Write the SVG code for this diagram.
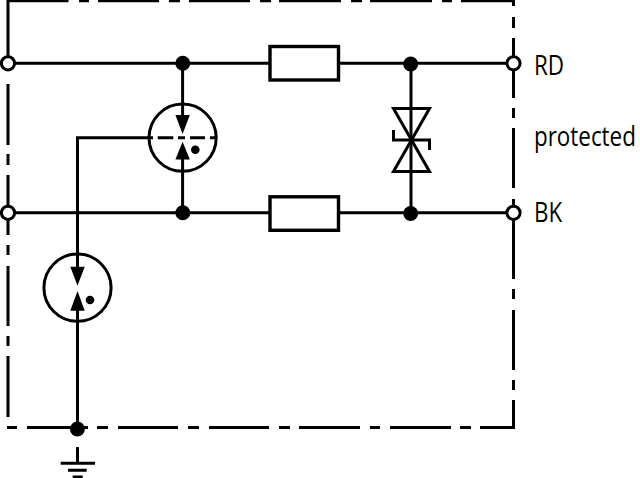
<svg xmlns="http://www.w3.org/2000/svg" width="640" height="478" viewBox="0 0 640 478">
<style>
.w{fill:none;stroke:#000;stroke-width:3}
.r{fill:#fff;stroke:#000;stroke-width:3.4}
.t{fill:#fff;stroke:#000;stroke-width:3}
.d{fill:#000;stroke:none}
text{font-family:"Open Sans","Liberation Sans",sans-serif;font-size:27px;fill:#000}
</style>
<rect width="640" height="478" fill="#fff"/>
<g id="connectors">
<path id="frame" class="w" d="M8 71V0.7H68.5M79 0.7H89M98 0.7H159M169 0.7H180M189 0.7H250M260 0.7H271M279 0.7H341M351 0.7H362M370 0.7H432M442 0.7H452M461 0.7H513.5V6M513.5 17V28M513.5 38V98M513.5 108V118M513.5 128V188M513.5 199V209M513.5 219V279M513.5 289V299M513.5 310V370M513.5 380V390M513.5 400V427.5H480M471 427.5H460M451 427.5H390M380 427.5H370M360 427.5H299M290 427.5H279M269 427.5H209M199 427.5H188M178 427.5H118M108 427.5H97M88 427.5H27M17 427.5H7M8 84V145M8 154V165M8 175V235M8 245V255M8 266V326M8 336V346M8 356V417"/>
<path class="w" d="M8 63.3H513.5M8 212.8H513.5"/>
<path class="w" d="M182.6 63.3V120M182.6 155V212.8"/>
<path class="w" d="M411 63.3V212.8"/>
<path class="w" d="M153 137.7H77.5V275M77.5 300V429"/>
<path class="w" d="M157.7 137.7H173.3M178 137.7H185M190 137.7H205M210 137.7H217"/>
<path class="w" d="M77.5 447V463.3"/>
</g>
<g id="resistor-top"><rect class="r" x="270" y="46.5" width="68.5" height="33.5"/></g>
<g id="resistor-bottom"><rect class="r" x="270" y="196.8" width="68.5" height="33.5"/></g>
<g id="gdt-top">
<circle class="w" cx="182.6" cy="137.7" r="33.6"/>
<path class="d" d="M175.4 115H189.8L182.6 134ZM182.6 141.7L189.8 159.5H175.4Z"/>
<circle class="d" cx="195.3" cy="149.7" r="4.3"/>
</g>
<g id="gdt-left">
<circle class="w" cx="77.5" cy="287.7" r="33.6"/>
<path class="d" d="M70.3 266.7H84.7L77.5 285.7ZM77.5 291L84.7 310.7H70.3Z"/>
<circle class="d" cx="90" cy="300" r="4.3"/>
</g>
<g id="tvs">
<path class="w" d="M393.5 108.5H429.5L393.5 171.5H429.5ZM393.5 130V140H429.5V150"/>
</g>
<g id="junctions">
<circle class="d" cx="182.8" cy="63.3" r="7.5"/>
<circle class="d" cx="182.8" cy="212.8" r="7.5"/>
<circle class="d" cx="410.7" cy="64" r="7.5"/>
<circle class="d" cx="410.7" cy="213.5" r="7.5"/>
<circle class="d" cx="77.4" cy="429" r="7.5"/>
</g>
<g id="terminals">
<circle class="t" cx="8" cy="63.3" r="6.6"/>
<circle class="t" cx="8" cy="212.8" r="6.6"/>
<circle class="t" cx="513.5" cy="63.3" r="6.6"/>
<circle class="t" cx="513.5" cy="212.8" r="6.6"/>
</g>
<g id="ground">
<path class="w" d="M60.7 463.3H95M68 470.3H86.7M72.7 477H82.7"/>
</g>
<g id="labels">
<text transform="translate(534 75) scale(.83 1)">RD</text>
<text transform="translate(534 146) scale(.83 1)">protected</text>
<text transform="translate(534 221.5) scale(.83 1)">BK</text>
</g>
</svg>
